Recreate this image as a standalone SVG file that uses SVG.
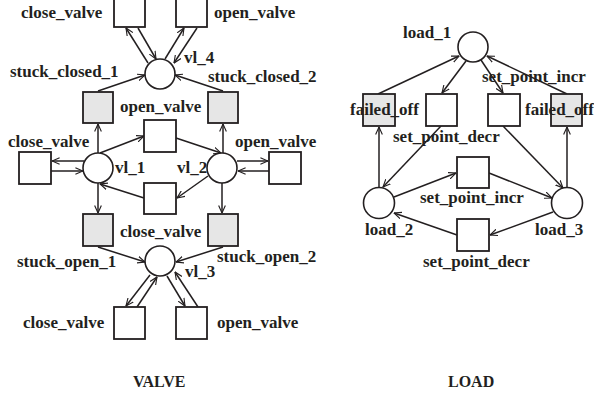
<svg xmlns="http://www.w3.org/2000/svg" width="594" height="396" viewBox="0 0 594 396">
<style>
.p{fill:#fff;stroke:#231f20;stroke-width:1.6}
.t{fill:#fff;stroke:#231f20;stroke-width:1.8}
.g{fill:#e6e6e6;stroke:#231f20;stroke-width:1.8}
.l{font-family:"Liberation Serif","Times New Roman",serif;font-weight:bold;font-size:17px;fill:#231f20}
.h{font-family:"Liberation Serif","Times New Roman",serif;font-weight:bold;font-size:16px;fill:#231f20}
#arcs line{stroke:#231f20;stroke-width:1.5;marker-end:url(#ah)}
</style>
<defs>
<marker id="ah" viewBox="0 0 10 10" refX="9.5" refY="5" markerWidth="8" markerHeight="8" markerUnits="userSpaceOnUse" orient="auto">
<path d="M0,0.8 L9.5,5 L0,9.2" fill="none" stroke="#231f20" stroke-width="1.4"/>
</marker>
</defs>
<g id="arcs">
<line x1="148" y1="63" x2="126" y2="28"/>
<line x1="138" y1="28" x2="156" y2="59"/>
<line x1="165" y1="59" x2="184" y2="28"/>
<line x1="197" y1="28" x2="174" y2="63"/>
<line x1="98" y1="91" x2="145" y2="75"/>
<line x1="223" y1="91" x2="175" y2="75"/>
<line x1="98" y1="153" x2="98" y2="124"/>
<line x1="223" y1="153" x2="223" y2="124"/>
<line x1="100" y1="153" x2="144" y2="136"/>
<line x1="176" y1="138" x2="221" y2="153"/>
<line x1="208" y1="176" x2="177" y2="198"/>
<line x1="144" y1="198" x2="100" y2="184"/>
<line x1="98" y1="183" x2="98" y2="213"/>
<line x1="222" y1="183" x2="222" y2="213"/>
<line x1="84" y1="161" x2="52" y2="161"/>
<line x1="51" y1="171" x2="83" y2="171"/>
<line x1="237" y1="161" x2="268" y2="161"/>
<line x1="269" y1="171" x2="238" y2="171"/>
<line x1="98" y1="247" x2="145" y2="262"/>
<line x1="223" y1="247" x2="176" y2="262"/>
<line x1="150" y1="275" x2="126" y2="306"/>
<line x1="137" y1="307" x2="157" y2="277"/>
<line x1="167" y1="276" x2="185" y2="306"/>
<line x1="198" y1="307" x2="175" y2="272"/>
<line x1="378" y1="94" x2="459" y2="56"/>
<line x1="466" y1="61" x2="442" y2="93"/>
<line x1="481" y1="60" x2="503" y2="93"/>
<line x1="567" y1="94" x2="487" y2="56"/>
<line x1="379" y1="188" x2="379" y2="127"/>
<line x1="567" y1="188" x2="567" y2="127"/>
<line x1="441" y1="126" x2="383" y2="187"/>
<line x1="503" y1="126" x2="563" y2="188"/>
<line x1="394" y1="197" x2="456" y2="173"/>
<line x1="489" y1="173" x2="552" y2="198"/>
<line x1="553" y1="212" x2="490" y2="235"/>
<line x1="457" y1="235" x2="394" y2="213"/>
</g>
<g id="t_close_top"><rect class="t" x="114" y="-4" width="31" height="31"/><text class="l" x="21" y="18">close_valve</text></g>
<g id="t_open_top"><rect class="t" x="176" y="-4" width="31" height="31"/><text class="l" x="214" y="18">open_valve</text></g>
<g id="vl_4"><circle class="p" cx="160" cy="74" r="15"/><text class="l" x="184" y="63">vl_4</text></g>
<g id="stuck_closed_1"><rect class="g" x="83" y="92" width="30" height="31"/><text class="l" x="10" y="77">stuck_closed_1</text></g>
<g id="stuck_closed_2"><rect class="g" x="208" y="92" width="30" height="31"/><text class="l" x="208" y="82">stuck_closed_2</text></g>
<g id="t_open_mid"><rect class="t" x="144" y="120" width="32" height="32"/><text class="l" x="120" y="112">open_valve</text></g>
<g id="t_close_left"><rect class="t" x="19" y="152" width="32" height="32"/><text class="l" x="8" y="147">close_valve</text></g>
<g id="t_open_right"><rect class="t" x="269" y="152" width="32" height="32"/><text class="l" x="235" y="147">open_valve</text></g>
<g id="vl_1"><circle class="p" cx="98" cy="168" r="15"/><text class="l" x="115" y="173">vl_1</text></g>
<g id="vl_2"><circle class="p" cx="222" cy="168" r="15"/><text class="l" x="177" y="173">vl_2</text></g>
<g id="t_close_mid"><rect class="t" x="144" y="183" width="32" height="31"/><text class="l" x="120" y="237">close_valve</text></g>
<g id="stuck_open_1"><rect class="g" x="83" y="214" width="30" height="32"/><text class="l" x="17" y="267">stuck_open_1</text></g>
<g id="stuck_open_2"><rect class="g" x="208" y="214" width="30" height="32"/><text class="l" x="217" y="262">stuck_open_2</text></g>
<g id="vl_3"><circle class="p" cx="160" cy="261" r="15"/><text class="l" x="185" y="277">vl_3</text></g>
<g id="t_close_bottom"><rect class="t" x="114" y="307" width="31" height="32"/><text class="l" x="23" y="328">close_valve</text></g>
<g id="t_open_bottom"><rect class="t" x="176" y="307" width="31" height="32"/><text class="l" x="217" y="328">open_valve</text></g>
<g id="load_1"><circle class="p" cx="473" cy="47" r="15"/><text class="l" x="403" y="38">load_1</text></g>
<g id="failed_off_1"><rect class="g" x="363" y="94" width="32" height="32"/><text class="l" x="350" y="115">failed_off</text></g>
<g id="spd_top"><rect class="t" x="426" y="94" width="31" height="32"/><text class="l" x="393" y="142">set_point_decr</text></g>
<g id="spi_top"><rect class="t" x="488" y="94" width="32" height="32"/><text class="l" x="482" y="82">set_point_incr</text></g>
<g id="failed_off_2"><rect class="g" x="551" y="94" width="31" height="32"/><text class="l" x="525" y="115">failed_off</text></g>
<g id="load_2"><circle class="p" cx="379" cy="203" r="15.5"/><text class="l" x="365" y="235">load_2</text></g>
<g id="load_3"><circle class="p" cx="567" cy="203" r="15.5"/><text class="l" x="535" y="235">load_3</text></g>
<g id="spi_mid"><rect class="t" x="457" y="157" width="32" height="31"/><text class="l" x="420" y="203">set_point_incr</text></g>
<g id="spd_bottom"><rect class="t" x="457" y="219" width="32" height="32"/><text class="l" x="423" y="267">set_point_decr</text></g>
<g id="titles"><text class="h" x="133" y="387">VALVE</text><text class="h" x="448" y="387">LOAD</text></g>
</svg>
